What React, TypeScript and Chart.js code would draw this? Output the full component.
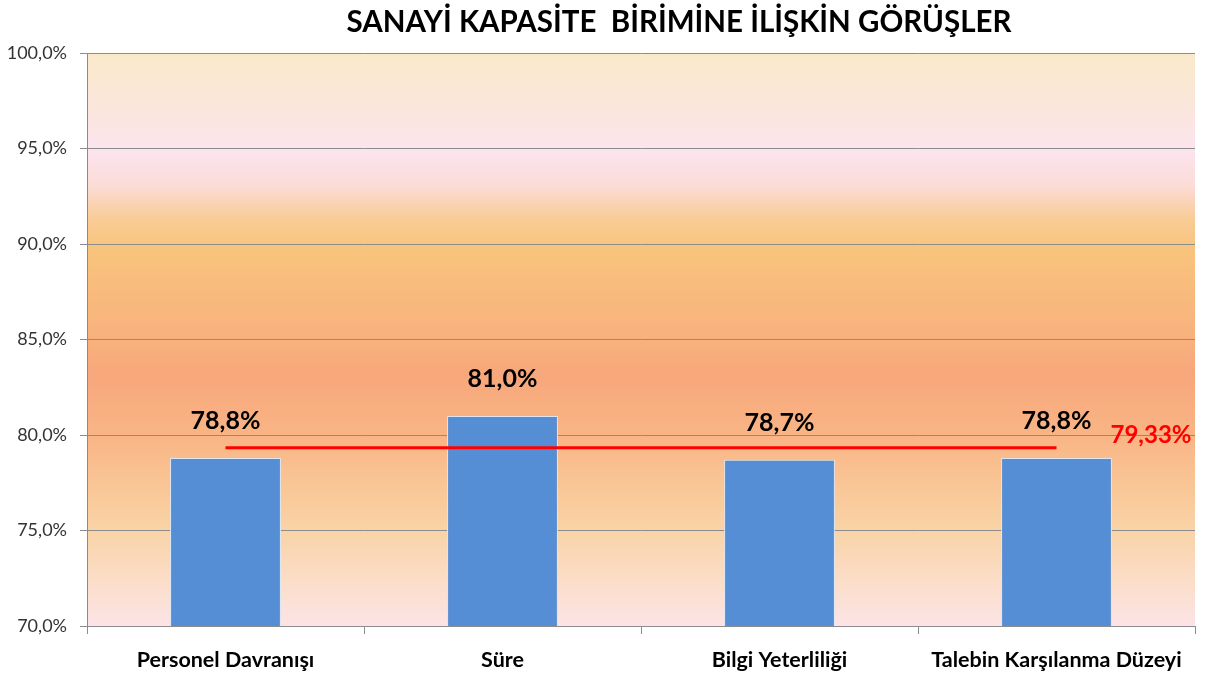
import React, { useEffect, useRef } from "react";
import { Chart, registerables } from "chart.js";

Chart.register(...registerables);

const chartTitle = "SANAYİ KAPASİTE  BİRİMİNE İLİŞKİN GÖRÜŞLER";
const categories = ["Personel Davranışı", "Süre", "Bilgi Yeterliliği", "Talebin Karşılanma Düzeyi"];
const values = [78.8, 81.0, 78.7, 78.8];
const averageValue = 79.33;
const averageSeries = categories.map(() => averageValue);
const yMin = 70;
const yMax = 100;
const yStep = 5;

const fmt1 = (v: number) => v.toFixed(1).replace(".", ",") + "%";
const fmt2 = (v: number) => v.toFixed(2).replace(".", ",") + "%";

const FONT = "Lato, 'Open Sans', sans-serif";

const decorPlugin = {
  id: "decor",
  beforeDraw(chart: any) {
    const { ctx, chartArea } = chart;
    ctx.save();
    ctx.fillStyle = "#ffffff";
    ctx.fillRect(0, 0, chart.width, chart.height);
    const g = ctx.createLinearGradient(0, chartArea.top, 0, chartArea.bottom);
    g.addColorStop(0.0, "#F9E9C9");
    g.addColorStop(0.1, "#FBE6DD");
    g.addColorStop(0.17, "#FCE4EE");
    g.addColorStop(0.23, "#FBDCD8");
    g.addColorStop(0.29, "#F9CC96");
    g.addColorStop(0.34, "#F8C47C");
    g.addColorStop(0.5, "#F8B17D");
    g.addColorStop(0.56, "#F7A77B");
    g.addColorStop(0.67, "#F9B585");
    g.addColorStop(0.75, "#F9C595");
    g.addColorStop(0.83, "#F9D3A6");
    g.addColorStop(0.92, "#FBDDC8");
    g.addColorStop(1.0, "#FCE4E6");
    ctx.fillStyle = g;
    ctx.fillRect(chartArea.left, chartArea.top, chartArea.right - chartArea.left, chartArea.bottom - chartArea.top);
    ctx.restore();
  },
  afterDatasetsDraw(chart: any) {
    const { ctx, chartArea } = chart;
    ctx.save();
    // value labels
    const barMeta = chart.getDatasetMeta(1);
    ctx.font = `bold 25px ${FONT}`;
    ctx.fillStyle = "#000000";
    ctx.textAlign = "center";
    ctx.textBaseline = "middle";
    barMeta.data.forEach((el: any, i: number) => {
      ctx.fillText(fmt1(values[i]), el.x, el.y - 37);
    });
    // average label
    const lineMeta = chart.getDatasetMeta(0);
    const last = lineMeta.data[lineMeta.data.length - 1];
    ctx.font = `bold 24px ${FONT}`;
    ctx.fillStyle = "#FF0000";
    ctx.textAlign = "left";
    ctx.fillText(fmt2(averageValue), last.x + 54, last.y - 13);
    // title
    ctx.fillStyle = "#000000";
    ctx.textAlign = "center";
    ctx.font = `bold 29.5px ${FONT}`;
    ctx.fillText(chartTitle, (chartArea.left + chartArea.right) / 2 + 38, 22);
    ctx.restore();
  },
};

export default function App() {
  const ref = useRef<HTMLCanvasElement | null>(null);
  useEffect(() => {
    if (!ref.current) return;
    const chart = new Chart(ref.current, {
      type: "bar",
      data: {
        labels: categories,
        datasets: [
          {
            type: "line",
            label: "Ortalama",
            data: averageSeries,
            borderColor: "#FF0000",
            borderWidth: 3,
            pointRadius: 0,
            fill: false,
            order: 0,
          } as any,
          {
            type: "bar",
            label: "Değer",
            data: values,
            backgroundColor: "#558ED5",
            borderColor: "#DCE6F2",
            borderWidth: 1,
            categoryPercentage: 1,
            barPercentage: 0.4,
            order: 1,
          },
        ],
      },
      options: {
        animation: false,
        responsive: true,
        maintainAspectRatio: false,
        layout: { padding: { top: 53, right: 27, left: 0, bottom: 0 } },
        plugins: {
          legend: { display: false },
          title: { display: false },
          tooltip: { enabled: false },
        },
        scales: {
          x: {
            offset: true,
            grid: {
              offset: true,
              drawOnChartArea: false,
              drawTicks: true,
              tickLength: 8,
              color: "#8C8C8C",
            },
            border: { color: "#8C8C8C" },
            ticks: {
              font: { family: FONT, size: 21.5, weight: "bold" },
              color: "#000000",
              padding: 13,
              maxRotation: 0,
              autoSkip: false,
            },
            afterFit: (scale: any) => {
              scale.height = 51;
            },
          },
          y: {
            min: yMin,
            max: yMax,
            grid: { color: "#8C8C8C", tickLength: 7 },
            border: { color: "#8C8C8C" },
            ticks: {
              stepSize: yStep,
              font: { family: FONT, size: 18 },
              color: "#333333",
              padding: 13,
              callback: (v: any) => fmt1(Number(v)),
            },
            afterFit: (scale: any) => {
              scale.width = 87;
            },
          },
        },
      },
      plugins: [decorPlugin],
    });
    return () => chart.destroy();
  }, []);
  return (
    <div style={{ position: "absolute", left: 0, top: 0, width: 1222, height: 677 }}>
      <canvas ref={ref} />
    </div>
  );
}
